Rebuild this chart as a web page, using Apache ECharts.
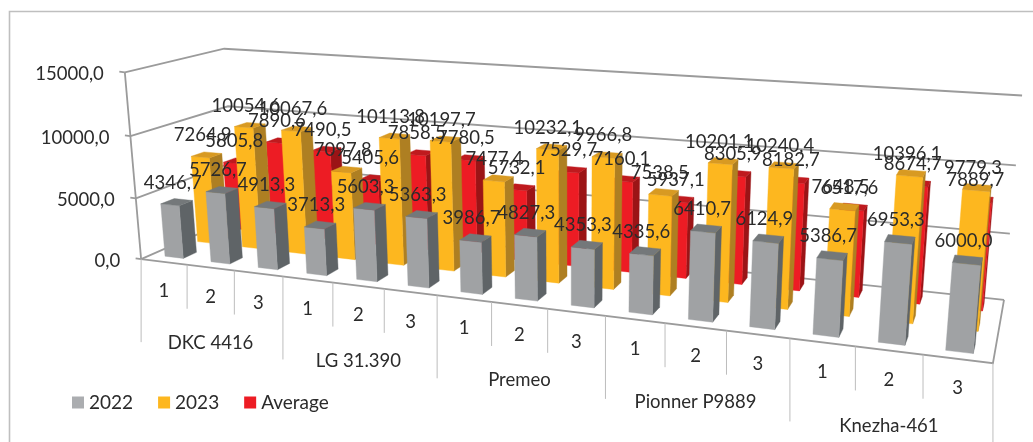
<!DOCTYPE html>
<html>
<head>
<meta charset="utf-8">
<style>html,body{margin:0;padding:0;background:#fff}#chart{width:1033px;height:442px}</style>
<script src="https://cdn.jsdelivr.net/npm/echarts@6/dist/echarts.min.js"></script>
</head>
<body>
<div id="chart"></div>
<script>
// Grain yield by hybrid and repetition, with the two-year average.
const hybrids = ['DKC 4416', 'LG 31.390', 'Premeo', 'Pionner P9889', 'Knezha-461'];
const repetitions = ['1', '2', '3'];
const valueTicks = [0, 5000, 10000, 15000];
const values2022 = [4346.7, 5726.7, 4913.3, 3713.3, 5603.3, 5363.3, 3986.7, 4827.3, 4353.3, 4335.6, 6410.7, 6124.9, 5386.7, 6953.3, 6000.0];
const values2023 = [7264.9, 10054.6, 10067.6, 7097.8, 10113.8, 10197.7, 7477.4, 10232.1, 9966.8, 7538.5, 10201.1, 10240.4, 7648.5, 10396.1, 9779.3];
const valuesAverage = [5805.8, 7890.6, 7490.5, 5405.6, 7858.5, 7780.5, 5732.1, 7529.7, 7160.1, 5937.1, 8305.9, 8182.7, 6517.6, 8674.7, 7889.7];

const categories = [];
hybrids.forEach(h => repetitions.forEach(r => categories.push(h + ' ' + r)));

// Camera calibration: [along categories, depth, height] in the unit box -> page pixels.
const cameraAnchors = [
  [0, 0, 0, 142, 258.5], [1, 0, 0, 993, 362], [1, 1, 0, 1004, 299],
  [0, 0, 1, 125.5, 72], [0, 1, 1, 224, 49], [1, 1, 1, 1022, 96],
  [1, 1, 2 / 3, 1016, 165], [1, 1, 1 / 3, 1010, 234],
  [0, 0, 1 / 3, 135, 198], [0, 0, 2 / 3, 130, 136],
  [0.2, 0, 0, 283, 277], [0.4, 0, 0, 437, 296], [0.6, 0, 0, 605, 317], [0.8, 0, 0, 790, 339]
];

// Least-squares fit of a 3x4 projective camera (last entry fixed to 1).
function solveCamera(anchors) {
  const n = 11, A = Array.from({ length: n }, () => new Array(n + 1).fill(0));
  const addRow = (row, rhs) => {
    for (let i = 0; i < n; i++) {
      for (let j = 0; j < n; j++) A[i][j] += row[i] * row[j];
      A[i][n] += row[i] * rhs;
    }
  };
  anchors.forEach(([X, Y, Z, px, py]) => {
    const x = px / 1000, y = py / 1000;
    addRow([X, Y, Z, 1, 0, 0, 0, 0, -x * X, -x * Y, -x * Z], x);
    addRow([0, 0, 0, 0, X, Y, Z, 1, -y * X, -y * Y, -y * Z], y);
  });
  for (let c = 0; c < n; c++) {
    let p = c;
    for (let r = c + 1; r < n; r++) if (Math.abs(A[r][c]) > Math.abs(A[p][c])) p = r;
    [A[c], A[p]] = [A[p], A[c]];
    for (let r = 0; r < n; r++) {
      if (r === c) continue;
      const f = A[r][c] / A[c][c];
      for (let k = c; k <= n; k++) A[r][k] -= f * A[c][k];
    }
  }
  return A.map((row, i) => row[n] / row[i]);
}
const cam = solveCamera(cameraAnchors);
function project(u, v, w) {
  const d = cam[8] * u + cam[9] * v + cam[10] * w + 1;
  return [
    1000 * (cam[0] * u + cam[1] * v + cam[2] * w + cam[3]) / d,
    1000 * (cam[4] * u + cam[5] * v + cam[6] * w + cam[7]) / d
  ];
}

// Unit-box position of a value through the cartesian scales.
function boxPos(params, api, cat, val) {
  const cs = params.coordSys, pt = api.coord([cat, val]);
  return {
    u: (pt[0] - cs.x) / cs.width,
    w: (cs.y + cs.height - pt[1]) / cs.height,
    band: api.size([1, 0])[0] / cs.width
  };
}

const FONT = '18.5px Lato, "Open Sans", sans-serif';
const TEXT = '#2b2b2b';
const WALL = { stroke: '#9b9b9b', lineWidth: 1.8, fill: 'none' };
const THIN = { stroke: '#bdbdbd', lineWidth: 1, fill: 'none' };
const BAR_WIDTH = 0.4, BAR_DEPTH = 0.4 / 3;

function label(text, x, y, align) {
  const a = align || 'center';
  return { type: 'text', x, y, silent: true,
    style: { text, fill: TEXT, font: FONT, align: a, verticalAlign: 'middle', textAlign: a, textVerticalAlign: 'middle' } };
}
function line(points, style) {
  return { type: 'polyline', silent: true, shape: { points }, style };
}
function poly(points, fill) {
  return { type: 'polygon', silent: true, shape: { points }, style: { fill, stroke: fill, lineWidth: 0.4 } };
}

// One column as three visible faces: front, right side and top.
function barRenderer(vFront, faces) {
  return function (params, api) {
    const p = boxPos(params, api, api.value(0), api.value(1));
    const hw = p.band * BAR_WIDTH / 2, u0 = p.u - hw, u1 = p.u + hw, v0 = vFront, v1 = vFront + BAR_DEPTH, w = p.w;
    return { type: 'group', children: [
      poly([project(u1, v0, 0), project(u1, v1, 0), project(u1, v1, w), project(u1, v0, w)], faces.side),
      poly([project(u0, v0, 0), project(u1, v0, 0), project(u1, v0, w), project(u0, v0, w)], faces.front),
      poly([project(u0, v0, w), project(u1, v0, w), project(u1, v1, w), project(u0, v1, w)], faces.top)
    ] };
  };
}

const rows = arr => arr.map((v, i) => [i, v]);
const barSeries = (name, data, vFront, z, legendColor, faces) => ({
  type: 'custom', name, z, data: rows(data), encode: { x: 0, y: 1 },
  itemStyle: { color: legendColor }, renderItem: barRenderer(vFront, faces), silent: true
});

// Walls, floor outline and value ticks.
function renderWall(params, api) {
  const val = api.value(1);
  const w = boxPos(params, api, 0, val).w;
  const t = project(0, 0, w);
  const children = [
    line([t, project(0, 1, w), project(1, 1, w)], WALL),
    line([[t[0] - 5.5, t[1] - 0.7], t], WALL),
    label(api.value(2), t[0] - 21, t[1] + 1.5, 'right')
  ];
  if (val === valueTicks[0]) {
    children.push(line([project(0, 0, 0), project(1, 0, 0), project(1, 1, 0)], WALL));
    children.push(line([project(0, 0, 0), project(0, 0, 1)], WALL));
  }
  return { type: 'group', children };
}

// Category axis below the floor: repetition and hybrid levels.
function renderCategoryAxis(params, api) {
  const i = api.value(0);
  const p = boxPos(params, api, i, 0);
  const start = project(p.u - p.band / 2, 0, 0), mid = project(p.u, 0, 0);
  const isGroupStart = i % repetitions.length === 0;
  const children = [
    line([start, [start[0], start[1] + (isGroupStart ? 83 : 44)]], THIN),
    label(repetitions[i % repetitions.length], mid[0], mid[1] + 29.5)
  ];
  if (i % repetitions.length === 1) {
    children.push(label(hybrids[Math.floor(i / repetitions.length)], mid[0], mid[1] + 75));
  }
  if (i === categories.length - 1) {
    const end = project(1, 0, 0);
    children.push(line([end, [end[0], end[1] + 83]], THIN));
  }
  return { type: 'group', children };
}

// Data labels sit above the top centre of their own column.
function renderValueLabel(params, api) {
  const p = boxPos(params, api, api.value(0), api.value(1));
  const c = project(p.u, api.value(2) + BAR_DEPTH / 2, p.w);
  const text = api.value(1).toFixed(1).replace('.', ',');
  return label(text, c[0] - 4, c[1] - 19.5);
}

const V2022 = 0.1, V2023 = 0.4333, VAVG = 0.7667;
const labelRows = [];
[[valuesAverage, VAVG], [values2023, V2023], [values2022, V2022]].forEach(([arr, v]) => {
  arr.forEach((val, i) => labelRows.push([i, val, v]));
});

const chart = echarts.init(document.getElementById('chart'));
chart.setOption({
  animation: false,
  backgroundColor: '#ffffff',
  grid: { left: 142, top: 72, width: 851, height: 186 },
  xAxis: { type: 'category', data: categories, show: false },
  yAxis: { type: 'value', min: 0, max: 15000, interval: 5000, show: false },
  legend: {
    left: 67, top: 388, icon: 'rect', itemWidth: 12, itemHeight: 12, itemGap: 25,
    data: ['2022', '2023', 'Average'], selectedMode: false,
    textStyle: { color: TEXT, fontFamily: 'Lato', fontSize: 19 }
  },
  graphic: [{
    type: 'polyline', z: 0, silent: true,
    shape: { points: [[9.5, 442], [9.5, 11.5], [1033, 11.5]] },
    style: { stroke: '#bfbfbf', lineWidth: 1.6, fill: 'none' }
  }],
  series: [
    barSeries('2022', values2022, V2022, 4, '#ABADB0', { front: '#A0A2A4', side: '#5F6467', top: '#74787A' }),
    barSeries('2023', values2023, V2023, 3, '#FDB71F', { front: '#FDB71F', side: '#AE7F22', top: '#D89A22' }),
    barSeries('Average', valuesAverage, VAVG, 2, '#ED1C24', { front: '#ED1C24', side: '#9B1416', top: '#BF1A1E' }),
    {
      type: 'custom', name: 'walls', z: 1, silent: true,
      data: valueTicks.map(t => [0, t, t.toFixed(1).replace('.', ',')]),
      encode: { x: 0, y: 1 }, renderItem: renderWall
    },
    {
      type: 'custom', name: 'categoryAxis', z: 1, silent: true,
      data: categories.map((c, i) => [i, 0]),
      encode: { x: 0, y: 1 }, renderItem: renderCategoryAxis
    },
    {
      type: 'custom', name: 'valueLabels', z: 6, silent: true,
      data: labelRows, encode: { x: 0, y: 1 }, renderItem: renderValueLabel
    }
  ]
});
</script>
</body>
</html>
